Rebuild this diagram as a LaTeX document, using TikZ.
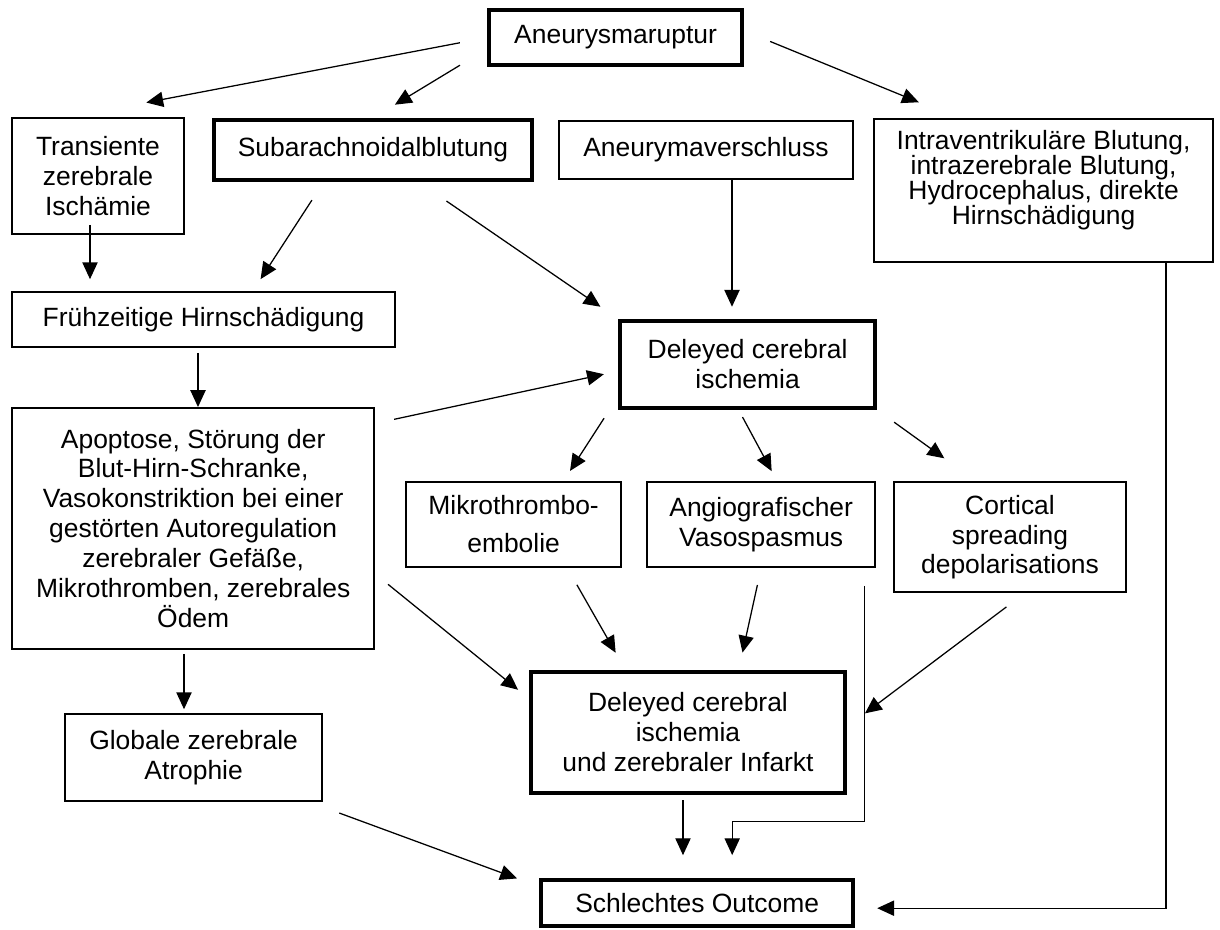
\documentclass[tikz,border=0pt]{standalone}
\usepackage{fontspec}
\setmainfont{Liberation Sans}
\usetikzlibrary{arrows.meta,calc}

\begin{document}
\begin{tikzpicture}[
  >={Triangle[length=4.2mm,width=3.8mm]},
  box/.style={draw,line width=1.1pt,align=center,inner sep=2pt,
    font=\fontsize{18.8}{21.3}\selectfont},
  bold box/.style={box,line width=2.9pt},
  link/.style={->,line width=0.9pt}]
  \useasboundingbox (0,0) rectangle (30.5,-23.25);
  % top row
  \node [bold box,minimum width=6.33cm,minimum height=1.38cm] (rupt) at (15.39,-0.94) {Aneurysmaruptur};
  \node [box,minimum width=4.3cm,minimum height=2.9cm] (tia) at (2.45,-4.4) {Transiente\\zerebrale\\Ischämie};
  \node [bold box,minimum width=7.95cm,minimum height=1.5cm] (sab) at (9.325,-3.75) {Subarachnoidalblutung};
  \node [box,minimum width=7.35cm,minimum height=1.45cm] (occl) at (17.65,-3.75) {Aneurymaverschluss};
  \node [box,minimum width=8.48cm,minimum height=3.58cm,
    font=\fontsize{18.8}{17.8}\selectfont] (ivh) at (26.09,-4.76)
    {Intraventrikuläre Blutung,\\intrazerebrale Blutung,\\Hydrocephalus, direkte\\Hirnschädigung\\ \mbox{}};
  % middle
  \node [box,minimum width=9.58cm,minimum height=1.38cm] (ebi) at (5.09,-7.99) {Frühzeitige Hirnschädigung};
  \node [bold box,minimum width=6.38cm,minimum height=2.18cm] (dci) at (18.69,-9.11) {Deleyed cerebral\\ischemia};
  \node [box,minimum width=9.05cm,minimum height=6.03cm] (apo) at (4.83,-13.21)
    {Apoptose, Störung der\\Blut-Hirn-Schranke,\\Vasokonstriktion bei einer\\gestörten Autoregulation\\zerebraler Gefäße,\\Mikrothromben, zerebrales\\Ödem};
  \node [box,minimum width=5.38cm,minimum height=2.13cm,
    font=\fontsize{18.8}{27}\selectfont] (micro) at (12.84,-13.11) {Mikrothrombo-\\embolie};
  \node [box,minimum width=5.7cm,minimum height=2.13cm] (angio) at (19.03,-13.11) {Angiografischer\\Vasospasmus};
  \node [box,minimum width=5.8cm,minimum height=2.75cm] (csd) at (25.25,-13.43) {Cortical\\spreading\\depolarisations};
  % bottom
  \node [bold box,minimum width=7.85cm,minimum height=3.03cm] (dciinf) at (17.2,-18.31)
    {Deleyed cerebral\\ischemia\\und zerebraler Infarkt};
  \node [box,minimum width=6.43cm,minimum height=2.18cm] (glob) at (4.84,-18.94) {Globale zerebrale\\Atrophie};
  \node [bold box,minimum width=7.8cm,minimum height=1.15cm] (outc) at (17.43,-22.58) {Schlechtes Outcome};

  % links
  \draw [link,shorten <=0.69cm,shorten >=1.96cm] (rupt.west) -- (tia.116);
  \draw [link,shorten <=0.79cm,shorten >=0.64cm] (rupt.185) -- (sab.north);
  \draw [link,shorten <=0.70cm,shorten >=1.04cm] (rupt.3) -- (ivh.140);
  \draw [link,shorten <=-0.25cm,shorten >=0.3cm] ($(tia.south)+(-0.2,0)$) -- ($(tia.south |- ebi.north)+(-0.2,0)$);
  \draw [link,shorten <=0.54cm,shorten >=0.36cm] (sab.213) -- (ebi.30);
  \draw [link,shorten <=0.84cm,shorten >=0.53cm] (sab.325) -- (dci.north west);
  \draw [link,shorten >=0.3cm] ($(occl.south)+(0.65,0)$) -- ($(occl.south |- dci.north)+(0.65,0)$);
  \draw [link,shorten <=0.12cm] ($(ebi.south)+(-0.14,0)$) -- ($(ebi.south |- apo.north)+(-0.14,0)$);
  \draw [link,shorten <=0.49cm,shorten >=0.36cm] (apo.30) -- (dci.183);
  \draw [link,shorten <=0.64cm,shorten >=0.3cm] (dci.194) -- (micro.41);
  \draw [link,shorten <=0.2cm,shorten >=0.28cm] (dci.259) -- (angio.70);
  \draw [link,shorten <=0.52cm,shorten >=0.99cm] (dci.south east) -- (csd.121);
  \draw [link,shorten <=0.1cm,shorten >=0.1cm] ($(apo.south)+(-0.23,0)$) -- ($(apo.south |- glob.north)+(-0.23,0)$);
  \draw [link,shorten <=0.42cm,shorten >=0.35cm] (apo.346) -- (dciinf.168);
  \draw [link,shorten <=0.49cm,shorten >=0.49cm] (micro.321) -- (dciinf.135);
  \draw [link,shorten <=0.44cm,shorten >=0.44cm] (angio.south) -- (dciinf.51);
  \draw [link,shorten <=0.58cm,shorten >=0.56cm] (csd.285) -- (dciinf.2);
  \draw [link,shorten <=0.8cm,shorten >=0.59cm] (glob.339) -- (outc.174);
  \draw [link,shorten <=0.125cm,shorten >=0.575cm] ($(dciinf.south)+(-0.125,0)$) -- ($(dciinf.south |- outc.north)+(-0.125,0)$);
  \draw [link,shorten <=0.45cm,shorten >=0.575cm] ($(angio.south)+(2.575,0)$)
    |- ($(outc.north)+(0.875,1.425)$) -- ($(outc.north)+(0.875,0)$);
  \draw [link,shorten >=0.55cm] ($(ivh.south)+(3.06,0)$) |- ($(outc.east)+(0,-0.125)$);
\end{tikzpicture}
\end{document}
